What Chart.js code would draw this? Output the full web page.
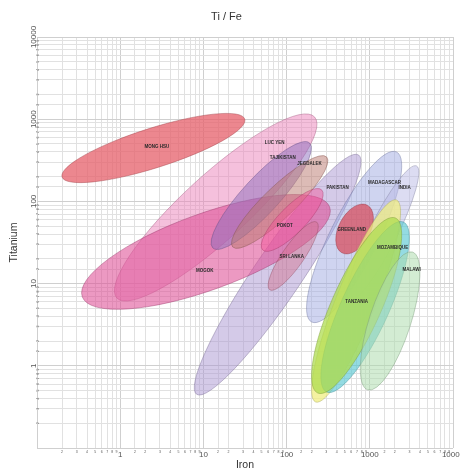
<!DOCTYPE html>
<html>
<head>
<meta charset="utf-8">
<script src="https://cdn.jsdelivr.net/npm/chart.js@4.4.1/dist/chart.umd.min.js"></script>
<style>
  html, body { margin: 0; padding: 0; background: #ffffff; }
  #wrap { width: 460px; height: 470px; }
</style>
</head>
<body>
<div id="wrap"><canvas id="chart" width="460" height="470"></canvas></div>
<script>
// Ti / Fe fields of corundum deposits (log-log).
// Each field is an ellipse given by the two ends of its long axis
// (iron, titanium) and its half-width measured in decades.
const deposits   = ['MONG HSU', 'LUC YEN', 'PAKISTAN', 'MOGOK', 'TAJIKISTAN', 'JEGDALEK', 'POKOT', 'SRI LANKA',
                    'MADAGASCAR', 'INDIA', 'GREENLAND', '', 'MOZAMBIQUE', 'TANZANIA', 'MALAWI'];
const ironLow    = [0.20, 0.91, 8.3, 0.35, 13.0, 22.5, 51.6, 62.7, 200, 572, 462, 223, 303, 236, 942];
const titanLow   = [198, 6.7, 0.45, 6.9, 27.1, 27.9, 25.6, 8.4, 3.41, 6.3, 23.7, 0.363, 0.48, 0.467, 0.51];
const ironHigh   = [31.4, 217, 734, 329, 189, 303, 264, 230, 2099, 3646, 933, 2099, 2546, 2041, 3264];
const titanHigh  = [1005, 1064, 367, 85.5, 513, 347, 138, 56, 399, 270, 89.9, 104, 56, 62.8, 24.2];
const halfWidth  = [0.24, 0.39, 0.29, 0.46, 0.22, 0.19, 0.16, 0.13, 0.29, 0.17, 0.19, 0.24, 0.29, 0.30, 0.25];
const labelIron  = [2.76, 72, 410, 10.4, 89.8, 189, 94.9, 115, 1506, 2617, 605, null, 1879, 695, 3177];
const labelTitan = [459, 513, 146, 14.2, 337, 285, 50.2, 21.1, 167, 146, 44.9, null, 27.1, 5.97, 14.6];
const fieldColors = [
  [230, 95, 105, 0.75], [235, 130, 185, 0.50], [170, 150, 210, 0.50], [222, 80, 150, 0.58],
  [140, 110, 190, 0.50], [185, 120, 110, 0.50], [245, 80, 150, 0.45], [210, 110, 140, 0.45],
  [160, 170, 225, 0.50], [185, 185, 230, 0.50], [215, 70, 85, 0.70], [240, 238, 130, 0.75],
  [90, 200, 210, 0.65], [175, 220, 80, 0.75], [175, 220, 175, 0.55]
];
const axisMin = 0.1;
const axisMax = 10000;

const FONT = "'Liberation Sans', Arial, sans-serif";

function isDecade(v) {
  const l = Math.log10(v);
  return Math.abs(l - Math.round(l)) < 1e-6;
}
function tickText(v) {
  if (v <= axisMin * 1.0001) return '';
  if (isDecade(v)) return String(Math.round(v) >= 1 ? Math.round(v) : v);
  return String(Math.round(v / Math.pow(10, Math.floor(Math.log10(v) + 1e-9))));
}

const fieldsPlugin = {
  id: 'fields',
  beforeDatasetsDraw(chart) {
    const { ctx, chartArea, scales: { x, y } } = chart;
    const decade = (Math.abs(x.getPixelForValue(10) - x.getPixelForValue(1)) +
                    Math.abs(y.getPixelForValue(10) - y.getPixelForValue(1))) / 2;
    ctx.save();
    ctx.beginPath();
    ctx.rect(chartArea.left, chartArea.top, chartArea.right - chartArea.left, chartArea.bottom - chartArea.top);
    ctx.clip();
    deposits.forEach((name, i) => {
      const x1 = x.getPixelForValue(ironLow[i]), y1 = y.getPixelForValue(titanLow[i]);
      const x2 = x.getPixelForValue(ironHigh[i]), y2 = y.getPixelForValue(titanHigh[i]);
      const cx = (x1 + x2) / 2, cy = (y1 + y2) / 2;
      const a = Math.hypot(x2 - x1, y2 - y1) / 2;
      const b = halfWidth[i] * decade;
      const ang = Math.atan2(y2 - y1, x2 - x1);
      const [r, g, bl, al] = fieldColors[i];
      ctx.beginPath();
      ctx.ellipse(cx, cy, a, b, ang, 0, Math.PI * 2);
      ctx.fillStyle = `rgba(${r},${g},${bl},${al})`;
      ctx.fill();
      ctx.lineWidth = 0.8;
      ctx.strokeStyle = `rgba(${Math.round(r * 0.7)},${Math.round(g * 0.7)},${Math.round(bl * 0.7)},0.55)`;
      ctx.stroke();
    });
    ctx.restore();
  },
  afterDatasetsDraw(chart) {
    const { ctx, scales: { x, y } } = chart;
    ctx.save();
    ctx.font = `bold 4.5px ${FONT}`;
    ctx.fillStyle = '#2a2a2a';
    ctx.textAlign = 'center';
    ctx.textBaseline = 'middle';
    deposits.forEach((name, i) => {
      if (!name || labelIron[i] == null) return;
      ctx.fillText(name, x.getPixelForValue(labelIron[i]), y.getPixelForValue(labelTitan[i]));
    });
    ctx.restore();
  },
  afterDraw(chart) {
    // vertical tick labels on the titanium axis
    const { ctx, scales: { y } } = chart;
    ctx.save();
    ctx.fillStyle = '#555';
    ctx.textAlign = 'center';
    y.ticks.forEach(t => {
      const txt = tickText(t.value);
      if (!txt) return;
      const py = y.getPixelForValue(t.value);
      const major = isDecade(t.value);
      ctx.save();
      ctx.translate(major ? y.right - 1 : y.right + 1.5, py);
      ctx.rotate(-Math.PI / 2);
      ctx.font = major ? `8px ${FONT}` : `3.5px ${FONT}`;
      ctx.textBaseline = 'alphabetic';
      ctx.fillText(txt, 0, 0);
      ctx.restore();
    });
    ctx.restore();
  }
};

const gridColor = (c) => (c.tick && isDecade(c.tick.value)) ? '#cfcfcf' : '#e1e1e1';

new Chart(document.getElementById('chart'), {
  type: 'scatter',
  data: {
    datasets: deposits.map((name, i) => ({
      label: name,
      data: [{ x: ironLow[i], y: titanLow[i] }, { x: ironHigh[i], y: titanHigh[i] }],
      pointRadius: 0,
      showLine: false
    }))
  },
  options: {
    responsive: false,
    animation: false,
    events: [],
    layout: { padding: { left: 0, right: 7, top: 0, bottom: 0 } },
    plugins: {
      legend: { display: false },
      tooltip: { enabled: false },
      title: {
        display: true,
        text: 'Ti / Fe',
        color: '#333',
        font: { family: FONT, size: 11, weight: 'normal', lineHeight: 1.2 },
        padding: { top: 10, bottom: 13.8 }
      }
    },
    scales: {
      x: {
        type: 'logarithmic',
        min: axisMin,
        max: axisMax,
        afterFit: (s) => { s.height = 22; s.paddingLeft = 0; s.paddingRight = 0; },
        border: { display: false },
        grid: { color: gridColor, lineWidth: 1, drawTicks: false },
        ticks: {
          autoSkip: false,
          maxRotation: 0,
          minRotation: 0,
          padding: 2,
          color: '#555',
          font: (c) => ({ family: FONT, size: (c.tick && isDecade(c.tick.value)) ? 8 : 3.5 }),
          callback: (v) => tickText(v)
        },
        title: {
          display: true,
          text: 'Iron',
          color: '#333',
          font: { family: FONT, size: 10.5, lineHeight: 1 },
          padding: { top: 0, bottom: 0 }
        }
      },
      y: {
        type: 'logarithmic',
        min: axisMin,
        max: axisMax,
        afterFit: (s) => { s.width = 37; s.paddingTop = 0; s.paddingBottom = 0; },
        border: { display: false },
        grid: { color: gridColor, lineWidth: 1, drawTicks: false },
        ticks: { display: false, autoSkip: false },
        title: {
          display: true,
          text: 'Titanium',
          color: '#333',
          font: { family: FONT, size: 10.5, lineHeight: 1.2 },
          padding: { top: 8, bottom: 0 }
        }
      }
    }
  },
  plugins: [fieldsPlugin]
});
</script>
</body>
</html>
